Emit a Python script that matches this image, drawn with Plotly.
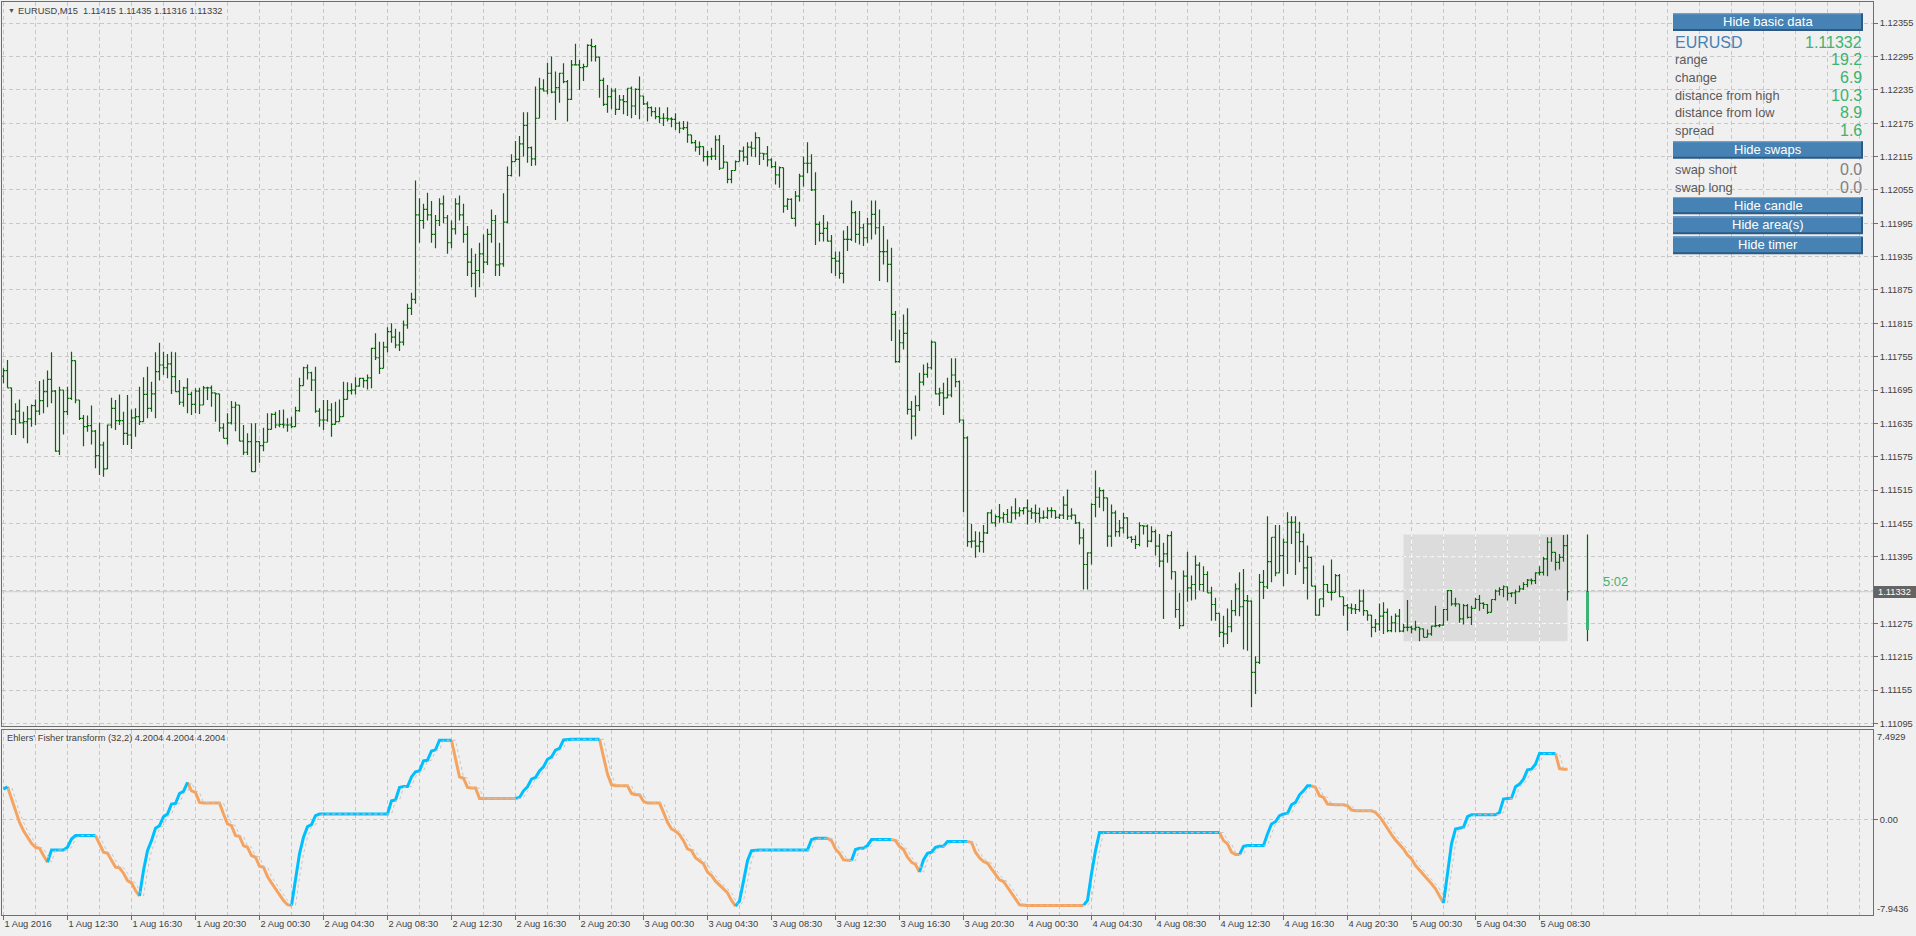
import plotly.graph_objects as go

# ---------------- data (prices in points above 1.11000, i.e. price = 1.11 + pts/100000) ----------------
BASE_PRICE = 1.11
OPEN_PTS = [
    720, 730, 699, 642, 657, 636, 638, 643, 667, 657,
    676, 692, 714, 693, 585, 695, 656, 680, 748, 677,
    644, 629, 631, 621, 577, 596, 553, 632, 662, 640,
    640, 617, 614, 645, 647, 638, 687, 662, 688, 728,
    740, 735, 742, 719, 692, 673, 699, 687, 669, 693,
    668, 699, 699, 690, 688, 627, 608, 636, 664, 668,
    603, 583, 602, 548, 602, 595, 601, 624, 651, 632,
    633, 632, 632, 629, 658, 703, 735, 726, 713, 657,
    641, 641, 659, 633, 638, 647, 678, 694, 695, 702,
    716, 712, 717, 770, 753, 734, 772, 800, 790, 776,
    781, 812, 842, 858, 1010, 1000, 1020, 1010, 975, 1000,
    1030, 1005, 960, 985, 1030, 1010, 975, 925, 905, 910,
    940, 925, 975, 1000, 920, 922, 997, 1081, 1106, 1110,
    1138, 1171, 1131, 1111, 1184, 1237, 1233, 1265, 1231, 1239,
    1265, 1250, 1218, 1280, 1280, 1275, 1277, 1315, 1313, 1294,
    1252, 1209, 1223, 1233, 1200, 1217, 1214, 1238, 1206, 1236,
    1224, 1210, 1203, 1196, 1187, 1184, 1184, 1183, 1182, 1175,
    1166, 1167, 1154, 1140, 1132, 1133, 1115, 1115, 1116, 1145,
    1094, 1105, 1074, 1090, 1106, 1125, 1114, 1132, 1130, 1149,
    1121, 1120, 1109, 1097, 1082, 1095, 1026, 1038, 1004, 1044,
    1080, 1103, 1103, 1055, 993, 977, 986, 963, 932, 927,
    905, 966, 966, 1014, 975, 987, 969, 994, 1011, 987,
    944, 944, 921, 831, 746, 780, 797, 660, 648, 667,
    709, 723, 735, 781, 688, 690, 681, 686, 722, 710,
    641, 609, 422, 423, 414, 422, 438, 474, 456, 467,
    465, 471, 457, 474, 474, 478, 483, 477, 474, 473,
    465, 466, 478, 478, 466, 470, 488, 468, 470, 456,
    429, 381, 402, 489, 502, 514, 501, 432, 474, 440,
    447, 465, 430, 426, 417, 451, 450, 423, 440, 414,
    387, 400, 433, 368, 300, 271, 360, 339, 345, 380,
    345, 363, 330, 309, 293, 259, 256, 269, 298, 337,
    305, 316, 315, 187, 205, 349, 341, 386, 430, 366,
    397, 421, 457, 457, 439, 422, 375, 394, 342, 290,
    319, 345, 331, 331, 361, 323, 307, 303, 301, 300,
    315, 298, 290, 268, 274, 288, 295, 262, 276, 288,
    261, 268, 268, 265, 268, 265, 250, 256, 270, 271,
    272, 300, 334, 310, 310, 283, 307, 286, 302, 318,
    311, 309, 295, 318, 333, 336, 341, 329, 330, 332,
    337, 345, 353, 352, 366, 367, 391, 421, 403, 385,
    394, 415,
]
HIGH_PTS = [
    734, 749, 699, 671, 678, 656, 666, 669, 678, 711,
    714, 730, 763, 695, 701, 695, 701, 764, 748, 677,
    650, 649, 667, 623, 636, 602, 633, 681, 677, 687,
    656, 686, 660, 662, 701, 718, 737, 710, 763, 780,
    764, 760, 764, 763, 713, 701, 716, 692, 698, 699,
    702, 701, 703, 690, 688, 635, 653, 675, 674, 668,
    632, 617, 635, 635, 603, 627, 653, 653, 656, 659,
    660, 644, 647, 665, 717, 737, 741, 728, 737, 662,
    677, 677, 671, 674, 678, 710, 709, 707, 718, 717,
    717, 723, 771, 797, 782, 782, 808, 815, 805, 800,
    820, 850, 870, 1072, 1040, 1030, 1050, 1035, 1010, 1040,
    1045, 1010, 1000, 1040, 1045, 1030, 990, 950, 940, 960,
    975, 985, 1020, 1010, 960, 1049, 1097, 1119, 1143, 1152,
    1195, 1195, 1133, 1241, 1257, 1254, 1284, 1295, 1268, 1266,
    1283, 1253, 1289, 1318, 1289, 1282, 1317, 1327, 1316, 1294,
    1257, 1244, 1238, 1238, 1226, 1226, 1238, 1241, 1238, 1259,
    1224, 1214, 1205, 1204, 1204, 1193, 1204, 1186, 1193, 1178,
    1179, 1178, 1154, 1145, 1142, 1133, 1125, 1131, 1153, 1154,
    1136, 1105, 1091, 1108, 1127, 1133, 1141, 1142, 1159, 1150,
    1121, 1134, 1112, 1106, 1097, 1095, 1040, 1040, 1053, 1084,
    1115, 1141, 1119, 1087, 998, 1010, 998, 974, 944, 944,
    982, 990, 1036, 1017, 1017, 994, 1005, 1036, 1036, 1020,
    990, 966, 951, 837, 804, 831, 842, 675, 685, 726,
    741, 744, 784, 781, 699, 708, 717, 752, 752, 712,
    642, 612, 454, 441, 440, 452, 475, 480, 471, 490,
    475, 481, 486, 500, 484, 484, 498, 483, 489, 483,
    478, 484, 484, 478, 472, 504, 516, 482, 471, 458,
    446, 403, 491, 550, 520, 516, 501, 489, 478, 461,
    474, 466, 432, 433, 457, 451, 453, 450, 444, 436,
    420, 435, 441, 369, 330, 370, 404, 361, 397, 385,
    378, 369, 341, 321, 293, 289, 302, 317, 347, 367,
    373, 326, 316, 216, 364, 371, 468, 430, 452, 452,
    428, 475, 468, 468, 458, 437, 415, 395, 343, 319,
    379, 346, 390, 364, 364, 323, 310, 311, 310, 336,
    336, 298, 290, 283, 311, 313, 302, 289, 293, 301,
    274, 317, 271, 280, 268, 266, 264, 271, 307, 274,
    301, 335, 335, 321, 310, 310, 310, 307, 321, 326,
    313, 310, 318, 336, 340, 343, 341, 331, 336, 343,
    349, 355, 356, 367, 378, 395, 430, 430, 403, 400,
    434, 435,
]
LOW_PTS = [
    707, 699, 614, 614, 635, 608, 599, 629, 632, 650,
    653, 664, 671, 584, 578, 615, 650, 677, 671, 641,
    594, 620, 597, 554, 542, 539, 553, 626, 623, 632,
    596, 596, 589, 611, 632, 638, 644, 656, 644, 712,
    722, 716, 688, 692, 668, 665, 653, 650, 653, 652,
    668, 677, 665, 638, 620, 608, 597, 633, 621, 603,
    578, 578, 548, 548, 564, 585, 601, 624, 626, 628,
    626, 620, 626, 629, 656, 703, 714, 693, 654, 629,
    623, 638, 611, 633, 638, 647, 678, 687, 687, 701,
    699, 696, 698, 749, 724, 734, 763, 780, 770, 765,
    775, 805, 830, 850, 960, 985, 1000, 960, 950, 990,
    995, 940, 950, 975, 1000, 960, 900, 880, 862, 880,
    905, 920, 960, 900, 900, 917, 995, 1079, 1106, 1079,
    1115, 1104, 1098, 1099, 1184, 1232, 1227, 1229, 1181, 1212,
    1247, 1178, 1217, 1279, 1235, 1251, 1277, 1286, 1286, 1221,
    1206, 1194, 1200, 1190, 1199, 1191, 1188, 1184, 1190, 1182,
    1208, 1178, 1187, 1182, 1175, 1170, 1178, 1168, 1163, 1157,
    1163, 1140, 1138, 1124, 1118, 1106, 1099, 1109, 1109, 1091,
    1094, 1067, 1067, 1090, 1106, 1106, 1100, 1115, 1114, 1100,
    1109, 1097, 1094, 1065, 1059, 1014, 1019, 1003, 989, 1034,
    1061, 1085, 1053, 956, 962, 962, 962, 905, 900, 895,
    887, 945, 963, 960, 957, 954, 960, 966, 975, 891,
    921, 889, 783, 744, 744, 768, 651, 606, 612, 657,
    703, 717, 732, 687, 666, 650, 680, 682, 700, 636,
    475, 413, 411, 393, 403, 402, 436, 456, 449, 456,
    456, 456, 456, 462, 467, 471, 453, 463, 456, 456,
    463, 463, 465, 463, 463, 463, 461, 462, 454, 417,
    336, 336, 381, 466, 483, 477, 413, 413, 431, 431,
    437, 427, 420, 409, 414, 435, 412, 421, 397, 376,
    283, 384, 354, 285, 265, 270, 314, 316, 318, 334,
    332, 330, 280, 280, 250, 232, 238, 259, 289, 288,
    228, 226, 124, 148, 202, 319, 337, 349, 360, 366,
    342, 364, 418, 362, 385, 346, 318, 342, 289, 289,
    304, 331, 316, 331, 322, 289, 262, 292, 292, 296,
    289, 280, 250, 259, 262, 256, 259, 259, 259, 259,
    259, 261, 257, 262, 243, 250, 250, 253, 268, 268,
    271, 280, 307, 305, 276, 273, 284, 272, 302, 298,
    301, 292, 295, 316, 325, 322, 316, 322, 310, 331,
    335, 340, 345, 346, 361, 361, 360, 386, 370, 372,
    386, 316,
]
CLOSE_PTS = [
    730, 699, 642, 657, 636, 638, 643, 667, 657, 676,
    692, 714, 693, 585, 695, 656, 680, 748, 677, 644,
    629, 631, 621, 577, 596, 553, 632, 662, 640, 640,
    617, 614, 645, 647, 638, 687, 662, 688, 728, 740,
    735, 742, 719, 692, 673, 699, 687, 669, 693, 668,
    699, 699, 690, 688, 627, 608, 636, 664, 668, 603,
    583, 602, 548, 602, 595, 601, 624, 651, 632, 633,
    632, 632, 629, 658, 703, 735, 726, 713, 657, 641,
    641, 659, 633, 638, 647, 678, 694, 695, 702, 716,
    712, 717, 770, 753, 734, 772, 800, 790, 776, 781,
    812, 842, 858, 1010, 1000, 1020, 1010, 975, 1000, 1030,
    1005, 960, 985, 1030, 1010, 975, 925, 905, 910, 940,
    925, 975, 1000, 920, 922, 997, 1081, 1106, 1110, 1138,
    1171, 1131, 1111, 1184, 1237, 1233, 1265, 1231, 1239, 1265,
    1250, 1218, 1280, 1280, 1275, 1277, 1315, 1313, 1294, 1252,
    1209, 1223, 1233, 1200, 1217, 1214, 1238, 1206, 1236, 1224,
    1210, 1203, 1196, 1187, 1184, 1184, 1183, 1182, 1175, 1166,
    1167, 1154, 1140, 1132, 1133, 1115, 1115, 1116, 1145, 1094,
    1105, 1074, 1090, 1106, 1125, 1114, 1132, 1130, 1149, 1121,
    1120, 1109, 1097, 1082, 1095, 1026, 1038, 1004, 1044, 1080,
    1103, 1103, 1055, 993, 977, 986, 963, 932, 927, 905,
    966, 966, 1014, 975, 987, 969, 994, 1011, 987, 944,
    944, 921, 831, 746, 780, 797, 660, 648, 667, 709,
    723, 735, 781, 688, 690, 681, 686, 722, 710, 641,
    609, 422, 423, 414, 422, 438, 474, 456, 467, 465,
    471, 457, 474, 474, 478, 483, 477, 474, 473, 465,
    466, 478, 478, 466, 470, 488, 468, 470, 456, 429,
    381, 402, 489, 502, 514, 501, 432, 474, 440, 447,
    465, 430, 426, 417, 451, 450, 423, 440, 414, 387,
    400, 433, 368, 300, 271, 360, 339, 345, 380, 345,
    363, 330, 309, 293, 259, 256, 269, 298, 337, 305,
    316, 315, 187, 205, 349, 341, 386, 430, 366, 397,
    421, 457, 457, 439, 422, 375, 394, 342, 290, 319,
    345, 331, 331, 361, 323, 307, 303, 301, 300, 315,
    298, 290, 268, 274, 288, 295, 262, 276, 288, 261,
    268, 268, 265, 268, 265, 250, 256, 270, 271, 272,
    300, 334, 310, 310, 283, 307, 286, 302, 318, 311,
    309, 295, 318, 333, 336, 341, 329, 330, 332, 337,
    345, 353, 352, 366, 367, 391, 421, 403, 385, 394,
    415, 332,
]
FISHER = [
    2.54, 2.74, 1.71, 0.61, -0.22, -0.92, -1.47, -1.97, -2.30, -2.38,
    -2.99, -3.54, -2.52, -2.52, -2.52, -2.52, -2.30, -1.61, -1.33, -1.33,
    -1.33, -1.33, -1.33, -1.33, -2.02, -2.71, -2.80, -3.41, -3.96, -4.01,
    -4.46, -5.07, -5.26, -5.90, -6.36, -4.24, -2.58, -1.75, -0.72, -0.50,
    0.25, 0.47, 1.30, 1.35, 2.18, 2.35, 3.10, 2.40, 2.27, 1.44,
    1.38, 1.38, 1.38, 1.38, 1.38, 0.47, -0.36, -0.50, -1.33, -1.39,
    -2.16, -2.30, -2.99, -3.13, -3.88, -3.96, -4.73, -5.26, -5.76, -6.31,
    -6.73, -7.08, -7.14, -4.79, -2.85, -1.47, -0.58, -0.42, 0.33, 0.47,
    0.47, 0.47, 0.47, 0.47, 0.47, 0.47, 0.47, 0.47, 0.47, 0.47,
    0.47, 0.47, 0.47, 0.47, 0.47, 0.47, 0.47, 1.57, 1.63, 2.68,
    2.76, 2.76, 3.56, 3.98, 4.06, 4.89, 4.95, 5.72, 5.81, 6.61,
    6.61, 6.61, 6.61, 5.03, 3.56, 3.45, 2.68, 2.63, 2.63, 1.77,
    1.77, 1.77, 1.77, 1.77, 1.77, 1.77, 1.77, 1.77, 1.77, 1.85,
    2.40, 2.74, 3.37, 3.51, 4.06, 4.39, 5.03, 5.22, 5.78, 5.94,
    6.64, 6.69, 6.69, 6.69, 6.69, 6.69, 6.69, 6.69, 6.69, 6.69,
    5.17, 3.79, 2.90, 2.82, 2.82, 2.82, 2.82, 2.18, 2.07, 2.07,
    1.52, 1.38, 1.38, 1.38, 1.38, 0.60, -0.22, -0.78, -0.97, -1.25,
    -1.75, -2.44, -2.58, -3.18, -3.41, -3.68, -4.37, -4.65, -5.12, -5.48,
    -5.76, -6.09, -6.73, -7.20, -6.78, -5.12, -3.41, -2.58, -2.52, -2.52,
    -2.52, -2.52, -2.52, -2.52, -2.52, -2.52, -2.52, -2.52, -2.52, -2.52,
    -2.52, -2.52, -1.66, -1.55, -1.55, -1.55, -1.55, -1.75, -2.44, -2.80,
    -3.35, -3.41, -3.41, -2.49, -2.38, -2.38, -2.16, -1.66, -1.66, -1.66,
    -1.66, -1.66, -1.66, -1.75, -2.24, -2.49, -3.13, -3.54, -3.74, -4.37,
    -3.35, -2.80, -2.71, -2.30, -2.22, -2.22, -1.83, -1.83, -1.83, -1.83,
    -1.83, -1.83, -1.88, -2.71, -3.18, -3.49, -3.63, -4.10, -4.51, -5.01,
    -5.15, -5.62, -6.03, -6.59, -7.09, -7.14, -7.14, -7.14, -7.14, -7.14,
    -7.14, -7.14, -7.14, -7.14, -7.14, -7.14, -7.14, -7.14, -7.14, -7.14,
    -7.14, -6.73, -4.51, -2.58, -1.08, -1.08, -1.08, -1.08, -1.08, -1.08,
    -1.08, -1.08, -1.08, -1.08, -1.08, -1.08, -1.08, -1.08, -1.08, -1.08,
    -1.08, -1.08, -1.08, -1.08, -1.08, -1.08, -1.08, -1.08, -1.08, -1.08,
    -1.08, -1.08, -1.08, -1.08, -1.08, -1.75, -2.02, -2.71, -2.91, -2.91,
    -2.22, -2.16, -2.16, -2.16, -2.16, -2.16, -1.19, -0.36, -0.17, 0.33,
    0.47, 0.52, 1.24, 1.44, 2.07, 2.40, 2.82, 2.82, 2.68, 1.99,
    1.85, 1.30, 1.24, 1.24, 1.24, 1.24, 1.16, 0.80, 0.74, 0.74,
    0.74, 0.74, 0.74, 0.60, 0.25, -0.22, -0.78, -1.25, -1.69, -2.08,
    -2.44, -2.94, -3.27, -3.82, -4.18, -4.57, -4.93, -5.34, -5.76, -6.31,
    -6.95, -4.24, -2.02, -0.78, -0.70, -0.64, 0.25, 0.41, 0.41, 0.41,
    0.41, 0.41, 0.41, 0.41, 0.60, 1.71, 1.77, 1.79, 2.74, 2.96,
    3.37, 4.15, 4.20, 4.62, 5.50, 5.50, 5.50, 5.50, 5.50, 4.25,
    4.2004, 4.2004,
]
TIME_LABELS = [
    "1 Aug 2016", "1 Aug 12:30", "1 Aug 16:30", "1 Aug 20:30", "2 Aug 00:30",
    "2 Aug 04:30", "2 Aug 08:30", "2 Aug 12:30", "2 Aug 16:30", "2 Aug 20:30",
    "3 Aug 00:30", "3 Aug 04:30", "3 Aug 08:30", "3 Aug 12:30", "3 Aug 16:30",
    "3 Aug 20:30", "4 Aug 00:30", "4 Aug 04:30", "4 Aug 08:30", "4 Aug 12:30",
    "4 Aug 16:30", "4 Aug 20:30", "5 Aug 00:30", "5 Aug 04:30", "5 Aug 08:30",
]
PRICE_LABELS = [
    "1.12355", "1.12295", "1.12235", "1.12175", "1.12115", "1.12055", "1.11995",
    "1.11935", "1.11875", "1.11815", "1.11755", "1.11695", "1.11635", "1.11575",
    "1.11515", "1.11455", "1.11395", "1.11335", "1.11275", "1.11215", "1.11155", "1.11095",
]
CURRENT_PRICE = 1.11332
FISHER_MAX, FISHER_MIN = 7.4929, -7.9436
# daily candle / area (5 Aug)
DAY_OPEN, DAY_HIGH, DAY_LOW, DAY_CLOSE = 1.11263, 1.11435, 1.11243, 1.11332
DAY_START_BAR, DAY_LAST_BAR, CANDLE_BAR = 350, 391, 396
TIMER_TEXT = "5:02"
HEADER = "EURUSD,M15\u00a0\u00a01.11415 1.11435 1.11316 1.11332"
IND_HEADER = "Ehlers' Fisher transform (32,2) 4.2004 4.2004 4.2004"
BASIC_ROWS = [("range", "19.2"), ("change", "6.9"), ("distance from high", "10.3"),
              ("distance from low", "8.9"), ("spread", "1.6")]
SWAP_ROWS = [("swap short", "0.0"), ("swap long", "0.0")]
BUTTONS = ["Hide basic data", "Hide swaps", "Hide candle", "Hide area(s)", "Hide timer"]

# ---------------- helpers ----------------
W, H = 1916, 936
FONT = "Liberation Sans, Arial, sans-serif"
GRID = "#C8C8C8"
FRAME = "#6E6E6E"
TXT = "#404040"
BAR_GREEN = "#006A00"


def fx(px):
    return px / W


def fy(py):
    return 1 - py / H


def price(p):
    return round(BASE_PRICE + p / 100000.0, 5)


n = len(CLOSE_PTS)
idx = list(range(n))
opens = [price(v) for v in OPEN_PTS]
highs = [price(v) for v in HIGH_PTS]
lows = [price(v) for v in LOW_PTS]
closes = [price(v) for v in CLOSE_PTS]

fig = go.Figure()

# OHLC bars
fig.add_trace(go.Ohlc(
    x=idx, open=opens, high=highs, low=lows, close=closes,
    increasing=dict(line=dict(color=BAR_GREEN, width=1.2)),
    decreasing=dict(line=dict(color=BAR_GREEN, width=1.2)),
    tickwidth=0.45, hoverinfo="skip", xaxis="x", yaxis="y", showlegend=False,
))

# daily candle: body as bar, wick as line segments
fig.add_trace(go.Bar(
    x=[CANDLE_BAR], y=[DAY_CLOSE - DAY_OPEN], base=[DAY_OPEN], width=0.9,
    marker=dict(color="#3CB371", line=dict(width=0)), hoverinfo="skip",
    xaxis="x", yaxis="y", showlegend=False,
))
fig.add_trace(go.Scatter(
    x=[CANDLE_BAR, CANDLE_BAR, None, CANDLE_BAR, CANDLE_BAR],
    y=[DAY_LOW, DAY_OPEN, None, DAY_CLOSE, DAY_HIGH],
    mode="lines", line=dict(color=BAR_GREEN, width=1.2), hoverinfo="skip",
    xaxis="x", yaxis="y", showlegend=False,
))

# Fisher transform coloured by direction
up = []
state = True
for i in range(n):
    if i > 0:
        if FISHER[i] > FISHER[i - 1]:
            state = True
        elif FISHER[i] < FISHER[i - 1]:
            state = False
    up.append(state)
bx, by, ox, oy = [], [], [], []
for i in range(1, n):
    tx, ty = (bx, by) if up[i] else (ox, oy)
    if tx and tx[-1] == i - 1:
        tx.append(i)
        ty.append(FISHER[i])
    else:
        if tx:
            tx.append(None)
            ty.append(None)
        tx.extend([i - 1, i])
        ty.extend([FISHER[i - 1], FISHER[i]])

fig.add_trace(go.Scatter(x=ox, y=oy, mode="lines", line=dict(color="#F4A460", width=3),
                         hoverinfo="skip", xaxis="x2", yaxis="y2", showlegend=False))
fig.add_trace(go.Scatter(x=bx, y=by, mode="lines", line=dict(color="#00BFFF", width=3),
                         hoverinfo="skip", xaxis="x2", yaxis="y2", showlegend=False))
fig.add_trace(go.Scatter(x=idx[1:], y=FISHER[:-1], mode="lines",
                         line=dict(color="#C4C4C4", width=1, dash="dot"),
                         hoverinfo="skip", xaxis="x2", yaxis="y2", showlegend=False))

# ---------------- axes ----------------
major_vals = list(range(0, 16 * len(TIME_LABELS), 16))
minor_vals = [v for v in range(8, 468, 8) if v not in major_vals]
XR = [-0.375, 467.375]
xcommon = dict(
    domain=[fx(2), fx(1873)], range=XR, tickmode="array", tickvals=major_vals,
    showgrid=True, gridcolor=GRID, gridwidth=1, griddash="4px,3px",
    zeroline=False, showline=True, linecolor=FRAME, linewidth=1, mirror=True,
    fixedrange=True,
    minor=dict(tickmode="array", tickvals=minor_vals, showgrid=True, gridcolor=GRID,
               griddash="4px,3px", gridwidth=1, ticks=""),
)
price_vals = [float(s) for s in PRICE_LABELS]
price_text = [s if abs(float(s) - CURRENT_PRICE) > 0.0002 else "" for s in PRICE_LABELS]

fig.update_layout(
    width=W, height=H, autosize=False,
    margin=dict(l=0, r=0, t=0, b=0, pad=0),
    paper_bgcolor="#F0F0F0", plot_bgcolor="#F0F0F0",
    font=dict(family=FONT, size=9.3, color=TXT),
    showlegend=False, hovermode=False, dragmode=False, bargap=0,
    xaxis=dict(**xcommon, anchor="y", showticklabels=False, ticks="",
               rangeslider=dict(visible=False)),
    xaxis2=dict(**xcommon, anchor="y2", matches="x", ticktext=TIME_LABELS,
                showticklabels=True, ticks="outside", ticklen=4, tickcolor=FRAME,
                ticklabelposition="outside right",
                tickfont=dict(family=FONT, size=9.3, color=TXT)),
    yaxis=dict(domain=[fy(728), fy(2.5)], range=[1.11091, 1.123923], anchor="x",
               side="right", tickmode="array", tickvals=price_vals, ticktext=price_text,
               ticks="outside", ticklen=4, tickcolor=FRAME,
               tickfont=dict(family=FONT, size=9.3, color=TXT),
               showgrid=True, gridcolor=GRID, gridwidth=1, griddash="4px,3px",
               zeroline=False, showline=True, linecolor=FRAME, linewidth=1, mirror=True,
               fixedrange=True),
    yaxis2=dict(domain=[fy(918), fy(732)], range=[FISHER_MIN, FISHER_MAX], anchor="x2",
                side="right", tickmode="array", tickvals=[0], ticktext=["0.00"],
                ticks="outside", ticklen=4, tickcolor=FRAME,
                tickfont=dict(family=FONT, size=9.3, color=TXT),
                showgrid=True, gridcolor=GRID, gridwidth=1, griddash="4px,3px",
                zeroline=False, showline=True, linecolor=FRAME, linewidth=1, mirror=True,
                fixedrange=True),
)

# ---------------- shapes ----------------
shapes = []
# day area rectangle (drawn under the grid)
shapes.append(dict(type="rect", xref="x", yref="y", x0=DAY_START_BAR, x1=DAY_LAST_BAR,
                   y0=DAY_LOW, y1=DAY_HIGH, fillcolor="#DCDCDC", line=dict(width=0),
                   layer="below"))
# grid shows white over the area
for gx in [v for v in range(8, 468, 8) if DAY_START_BAR < v < DAY_LAST_BAR]:
    shapes.append(dict(type="line", xref="x", yref="y", x0=gx, x1=gx, y0=DAY_HIGH, y1=DAY_LOW,
                       line=dict(color="#FFFFFF", width=1, dash="2.3px,3px,1.7px,0px"),
                       layer="between"))
for gy in [v for v in price_vals if DAY_LOW < v < DAY_HIGH]:
    shapes.append(dict(type="line", xref="x", yref="y", x0=DAY_START_BAR, x1=DAY_LAST_BAR,
                       y0=gy, y1=gy,
                       line=dict(color="#FFFFFF", width=1, dash="2.5px,3px,1.5px,0px"),
                       layer="between"))
# current price line
shapes.append(dict(type="line", xref="paper", yref="y", x0=fx(2), x1=fx(1873),
                   y0=CURRENT_PRICE, y1=CURRENT_PRICE,
                   line=dict(color="#CDCDCD", width=1), layer="between"))
# current price label box
shapes.append(dict(type="rect", xref="paper", yref="paper", x0=fx(1874), x1=fx(1916),
                   y0=fy(600), y1=fy(588), fillcolor="#646464", line=dict(width=0)))

# info panel buttons
PANEL_L, PANEL_R = 1673, 1863
button_rows = [(13.3, 31), (141.7, 159.3), (197.7, 215), (217.3, 235), (237.3, 255)]
annotations = []
for label, (t, b) in zip(BUTTONS, button_rows):
    shapes.append(dict(type="rect", xref="paper", yref="paper", x0=fx(PANEL_L), x1=fx(PANEL_R),
                       y0=fy(b), y1=fy(t), fillcolor="#2C5A85", line=dict(width=0)))
    shapes.append(dict(type="rect", xref="paper", yref="paper", x0=fx(PANEL_L), x1=fx(PANEL_R - 2),
                       y0=fy(b - 2), y1=fy(t), fillcolor="#4682B4", line=dict(width=0)))
    shapes.append(dict(type="line", xref="paper", yref="paper", x0=fx(PANEL_L), x1=fx(PANEL_R - 2),
                       y0=fy(t + 0.5), y1=fy(t + 0.5), line=dict(color="#7FA9D0", width=1)))
    annotations.append(dict(text=label, xref="paper", yref="paper", x=fx((PANEL_L + PANEL_R) / 2),
                            y=fy((t + b) / 2 - 0.5), xanchor="center", yanchor="middle",
                            showarrow=False, font=dict(family=FONT, size=13, color="#FFFFFF")))

fig.update_layout(shapes=shapes)


def ann(text, x, y, size, color, anchor="left"):
    annotations.append(dict(text=text, xref="paper", yref="paper", x=fx(x), y=fy(y),
                            xanchor=anchor, yanchor="middle", showarrow=False,
                            font=dict(family=FONT, size=size, color=color)))


# panel texts
ann("EURUSD", PANEL_L, 42.3, 16, "#4682B4")
ann(f"{CURRENT_PRICE:.5f}", PANEL_R + 1, 42.3, 16, "#3CB371", "right")
for (lab, val), yy in zip(BASIC_ROWS, [60, 77.7, 95.7, 113.3, 131]):
    ann(lab, PANEL_L, yy, 12.8, "#5A5A5A")
    ann(val, PANEL_R + 1, yy, 16, "#3CB371", "right")
for (lab, val), yy in zip(SWAP_ROWS, [170, 187.7]):
    ann(lab, PANEL_L, yy, 12.8, "#5A5A5A")
    ann(val, PANEL_R + 1, yy, 16, "#808080", "right")

# headers
ann("\u25bc", 5.5, 10.5, 7, "#505050")
ann(HEADER, 16, 10.7, 9.3, TXT)
ann(IND_HEADER, 5, 740.7, 9.3, TXT)
# indicator scale labels
ann(f"{FISHER_MAX:.4f}", 1875, 739, 9.3, TXT)
ann(f"{FISHER_MIN:.4f}", 1875, 911.5, 9.3, TXT)
# current price label
ann(f"{CURRENT_PRICE:.5f}", 1876, 594, 9.3, "#FFFFFF")
# bar timer
ann(TIMER_TEXT, 1601, 583, 13, "#3CB371")

fig.update_layout(annotations=annotations)

fig.write_html("out.html", config={"displayModeBar": False, "staticPlot": False},
               post_script="document.body.style.margin='0';document.body.style.overflow='hidden';")
